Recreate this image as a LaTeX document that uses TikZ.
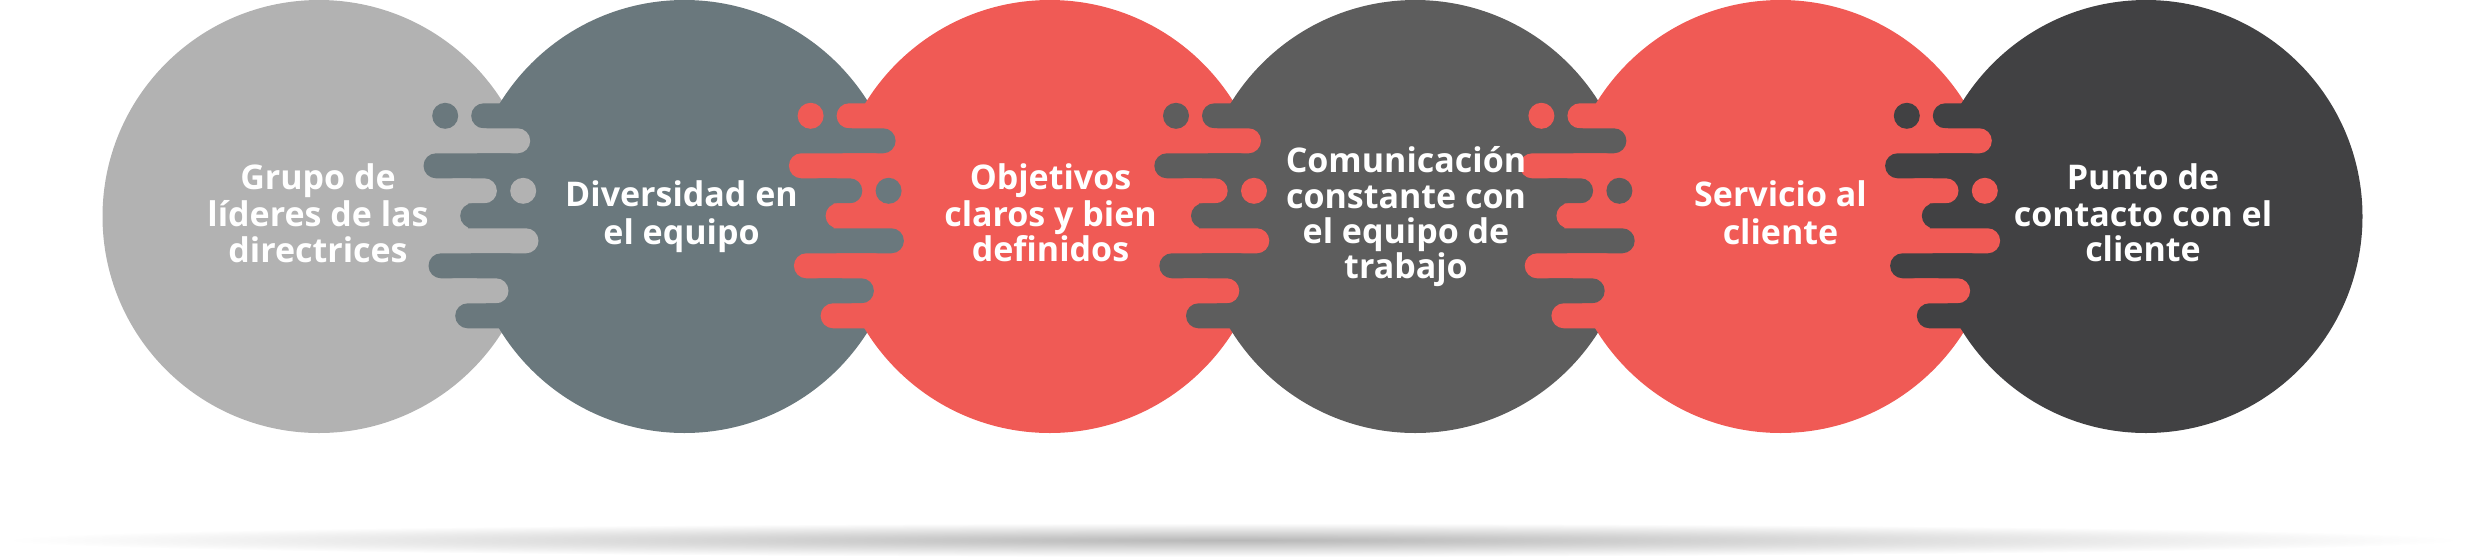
\documentclass[tikz,border=0pt]{standalone}
\usepackage{fontspec}
\setmainfont{Open Sans}
\definecolor{cgray}{HTML}{B2B2B2}
\definecolor{cslate}{HTML}{6A787D}
\definecolor{cred}{HTML}{F05A55}
\definecolor{cdark}{HTML}{5D5D5D}
\definecolor{cdarker}{HTML}{414143}
\newcommand\zipper[3]{%
  \begin{scope}[shift={(#1,0)}]
    \fill[#3] (-56.5,115.8) circle (13);
    \fill[#3, bar] (-30.5,103.3) rectangle (20,128.3);
    \fill[#2, bar] (-60,128.3) rectangle (28.5,153.3);
    \fill[#3, bar] (-78.2,153.3) rectangle (20,178.3);
    \fill[#2, bar] (-60,178.3) rectangle (-4.8,203.3);
    \fill[#2] (21.5,190.8) circle (13);
    \fill[#3, bar] (-41.5,203.3) rectangle (20,228.3);
    \fill[#2, bar] (-60,228.3) rectangle (36.8,253.3);
    \fill[#3, bar] (-73.2,253.3) rectangle (20,278.3);
    \fill[#2, bar] (-60,278.3) rectangle (6.8,303.3);
    \fill[#3, bar] (-46.5,303.3) rectangle (20,328.3);
  \end{scope}}
\begin{document}
\begin{tikzpicture}[x=1pt,y=-1pt,
  bar/.style={rounded corners=12.5pt},
  label/.style={text=white, align=center, inner sep=0pt,
    font=\bfseries\fontsize{34}{35.2}\selectfont}]
\useasboundingbox (0,0) rectangle (2466,558);
% shadow
\shade[inner color=black!28, outer color=white] (1233,540) ellipse [x radius=1228, y radius=17];
% circles and zippers
\fill[cgray] (319,216.5) circle (216.5);
\fill[cslate] (684.4,216.5) circle (216.5);
\zipper{501.7}{cgray}{cslate}
\fill[cred] (1049.8,216.5) circle (216.5);
\zipper{867.1}{cslate}{cred}
\fill[cdark] (1415.2,216.5) circle (216.5);
\zipper{1232.5}{cred}{cdark}
\fill[cred] (1780.6,216.5) circle (216.5);
\zipper{1597.9}{cdark}{cred}
\fill[cdarker] (2146,216.5) circle (216.5);
\zipper{1963.3}{cred}{cdarker}
% labels
\node[label] (t1) at (318,218) {\strut Grupo de\\líderes de las\\directrices\strut};
\node[label] (t2) at (681.5,218) {\strut Diversidad en\\el equipo\strut};
\node[label] (t3) at (1050.5,218) {\strut Objetivos\\claros y bien\\definidos\strut};
\node[label] (t4) at (1406,218) {\strut Comunicación\\constante con\\el equipo de\\trabajo\strut};
\node[label] (t5) at (1780.5,218) {\strut Servicio al\\cliente\strut};
\node[label] (t6) at (2143,218) {\strut Punto de\\contacto con el\\cliente\strut};
\end{tikzpicture}
\end{document}
